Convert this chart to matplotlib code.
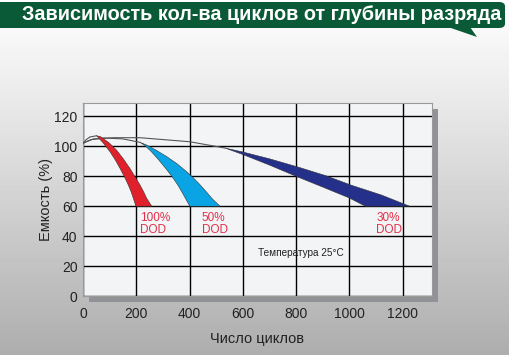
import numpy as np
import matplotlib.pyplot as plt
from matplotlib.patches import FancyBboxPatch, Polygon, Rectangle

plt.rcParams['font.family'] = ['Liberation Sans', 'DejaVu Sans']

# Data (cycles, capacity %)
line_100_x = [0, 12, 26, 51]
line_100_y = [102, 104.5, 106.3, 107.1]
line_50_x = [0, 30, 80, 150, 214]
line_50_y = [102, 104.5, 105.6, 105, 102.7]
line_30_x = [0, 40, 114, 214, 401, 533]
line_30_y = [102.3, 105, 105.8, 105.8, 103.1, 98.9]

red_left_x = [51, 75, 101, 121, 139, 156, 170, 181, 189, 195, 199]
red_left_y = [107.1, 102.5, 96.5, 91, 85.3, 79.5, 74.2, 69.5, 65.3, 62, 60]
red_right_x = [66, 97, 126, 152, 176, 196, 214, 228, 239, 249, 258]
red_right_y = [106.5, 102.5, 97.5, 91.5, 85.3, 79.5, 74.2, 69.5, 65.3, 62.5, 60]

blue_left_x = [214, 232, 256, 283, 310, 336, 358, 376, 390, 401]
blue_left_y = [102.7, 100.6, 96.6, 91.2, 85.4, 79.4, 73.6, 68, 63.5, 60]
blue_right_x = [214, 239, 276, 314, 352, 389, 415, 439, 462, 485, 514]
blue_right_y = [102.7, 100.9, 97.3, 93.2, 88.5, 83.1, 78.8, 74.4, 69.8, 65.0, 60]

navy_upper_x = [533, 601, 700, 807, 910, 1008, 1120, 1226]
navy_upper_y = [98.9, 96.2, 91.7, 86.2, 80.5, 74, 67.5, 60]
navy_lower_x = [533, 601, 700, 807, 900, 1000, 1060]
navy_lower_y = [98.9, 94.5, 87.5, 79.5, 72.8, 65.5, 60]

dod_labels = ["100%\nDOD", "50%\nDOD", "30%\nDOD"]
dod_x = [214, 446, 1100]

x_ticks = [0, 200, 400, 600, 800, 1000, 1200]
y_ticks = [0, 20, 40, 60, 80, 100, 120]

W, H = 510, 355
fig = plt.figure(figsize=(W / 100, H / 100), dpi=100)

# background gradient
bg = fig.add_axes([0, 0, 1, 1], zorder=-10)
rows = np.linspace(0, 1, 355)
shade = np.interp(rows, [0, 0.1, 0.3, 1.0], [1.0, 0.97, 0.91, 0.68])
bg.imshow(shade[:, None], cmap='gray', vmin=0, vmax=1, aspect='auto',
          extent=[0, 1, 0, 1], origin='upper')
bg.set_xlim(0, 1)
bg.set_ylim(0, 1)
bg.axis('off')

# title banner
banner = FancyBboxPatch((-10 / W, 1 - 28 / H), 515 / W, 26 / H,
                        boxstyle="round,pad=0,rounding_size=0.012",
                        transform=fig.transFigure, facecolor='#0b5a37',
                        edgecolor='none', zorder=5)
fig.patches.append(banner)
tail = Polygon([(448 / W, 1 - 27 / H), (477 / W, 1 - 37 / H), (470 / W, 1 - 27 / H)],
               closed=True, transform=fig.transFigure, facecolor='#0b5a37',
               edgecolor='none', zorder=5)
fig.patches.append(tail)
fig.text(22 / W, 1 - 15 / H, "Зависимость кол-ва циклов от глубины разряда",
         color='white', fontsize=14.3, fontweight='bold', va='center', ha='left', zorder=6)

# plot area
left, right, top, bottom = 83, 432, 103, 296
ax = fig.add_axes([left / W, 1 - bottom / H, (right - left) / W, (bottom - top) / H])

shadow = Rectangle(((left + 6) / W, 1 - (bottom + 6) / H), (right - left) / W, (bottom - top) / H,
                   transform=fig.transFigure, facecolor='#909295', edgecolor='none', zorder=-5)
fig.patches.append(shadow)

ax.set_facecolor('#f3f4f6')
ax.set_xlim(0, 1310)
ax.set_ylim(0, 129)
ax.set_xticks(x_ticks)
ax.set_yticks(y_ticks)
ax.grid(True, color='black', linewidth=1.0)
ax.set_axisbelow(True)
ax.tick_params(length=0, labelsize=10, colors='#222222')
ax.tick_params(axis='x', pad=8)
ax.tick_params(axis='y', pad=4)
for s in ax.spines.values():
    s.set_color('#9a9a9a')
    s.set_linewidth(0.8)

ax.set_ylabel("Емкость (%)", fontsize=10.5, color='#222222', labelpad=1)
ax.set_xlabel("Число циклов", fontsize=10.5, color='#222222', labelpad=8)

# thin lines
for lx, ly in [(line_100_x, line_100_y), (line_50_x, line_50_y), (line_30_x, line_30_y)]:
    ax.plot(lx, ly, color='#555555', linewidth=0.8, zorder=3)

# bands
def band(xl, yl, xr, yr, color):
    xs = list(xl) + list(xr)[::-1]
    ys = list(yl) + list(yr)[::-1]
    ax.fill(xs, ys, facecolor=color, edgecolor='#333333', linewidth=0.4, zorder=4)

band(red_left_x, red_left_y, red_right_x, red_right_y, '#e0202a')
band(blue_left_x, blue_left_y, blue_right_x, blue_right_y, '#0aa4e4')
band(navy_lower_x, navy_lower_y, navy_upper_x, navy_upper_y, '#25308a')

for lab, x in zip(dod_labels, dod_x):
    ax.text(x, 56, lab, color='#e2304a', fontsize=8.5, va='top', ha='left',
            linespacing=0.95, zorder=5)

ax.text(656, 28.5, "Температура 25°C", color='#222222', fontsize=7.2, va='center', ha='left', zorder=5)

fig.savefig("out.png", dpi=100)
